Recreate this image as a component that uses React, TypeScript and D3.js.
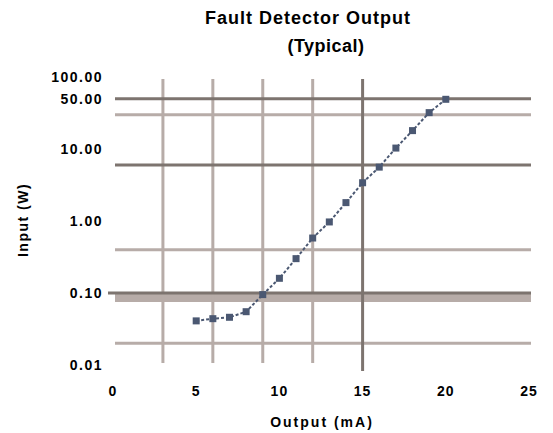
import React from 'react';
import * as d3 from 'd3';

// chart values
const outputMa = [5, 6, 7, 8, 9, 10, 11, 12, 13, 14, 15, 16, 17, 18, 19, 20];
const inputW = [0.041, 0.044, 0.046, 0.055, 0.095, 0.16, 0.3, 0.58, 0.97, 1.8, 3.4, 5.6, 10.3, 18, 32, 49];

const xTicks = [0, 5, 10, 15, 20, 25];
const yTicks = [0.01, 0.1, 1, 10, 50, 100];
const yTickLabels = ['0.01', '0.10', '1.00', '10.00', '50.00', '100.00'];

const vGridLight = [3, 6, 9, 12];
const vGridDark = [15];
const hGridDark = [50, 6, 0.1];
const hGridLight = [30, 0.4, 0.02];
const band = [0.075, 0.097];

const W = 553;
const H = 433;
const DARK = '#7d746f';
const LIGHT = '#b7aca8';
const MARK = '#4b5872';
const FONT = '"Liberation Sans", Arial, sans-serif';

export default function App() {
  const x = d3.scaleLinear().domain([0, 25]).range([113, 529]);
  const y = d3.scaleLog().domain([0.01, 100]).range([365, 77]);

  const line = d3.line<number>()
    .x((d, i) => x(outputMa[i]))
    .y((d) => y(d));

  const x0 = x(0) + 2;
  const x1 = x(25) + 2;

  return (
    <svg width={W} height={H} style={{ position: 'absolute', left: 0, top: 0, background: '#fff' }}>
      <rect x={0} y={0} width={W} height={H} fill="#fff" />

      {/* title */}
      <text x={308} y={24} textAnchor="middle" fontFamily={FONT} fontWeight="bold" fontSize={18} letterSpacing={1} fill="#000">
        Fault Detector Output
      </text>
      <text x={326} y={52} textAnchor="middle" fontFamily={FONT} fontWeight="bold" fontSize={18} letterSpacing={0.5} fill="#000">
        (Typical)
      </text>

      {/* light band below 0.10 */}
      <rect x={x0} y={y(band[1])} width={x1 - x0} height={y(band[0]) - y(band[1])} fill={LIGHT} />

      {/* horizontal grid */}
      {hGridLight.map((v) => (
        <line key={'hl' + v} x1={x0} x2={x1} y1={y(v)} y2={y(v)} stroke={LIGHT} strokeWidth={3} />
      ))}
      {/* vertical grid */}
      {vGridLight.map((v) => (
        <line key={'vl' + v} x1={x(v)} x2={x(v)} y1={79} y2={363} stroke={LIGHT} strokeWidth={3} />
      ))}
      {vGridDark.map((v) => (
        <line key={'vd' + v} x1={x(v)} x2={x(v)} y1={79} y2={371} stroke={DARK} strokeWidth={3} />
      ))}
      {hGridDark.map((v) => (
        <line key={'hd' + v} x1={v === 0.1 ? 108 : x0} x2={x1} y1={y(v)} y2={y(v)} stroke={DARK} strokeWidth={3} />
      ))}

      {/* series */}
      <path d={line(inputW) || ''} fill="none" stroke={MARK} strokeWidth={2} strokeDasharray="3,2" />
      {inputW.map((v, i) => (
        <rect key={'m' + i} x={x(outputMa[i]) - 3.5} y={y(v) - 3.5} width={7} height={7} fill={MARK} />
      ))}

      {/* y tick labels */}
      {yTicks.map((v, i) => (
        <text key={'yt' + v} x={103} y={y(v) + 5} textAnchor="end" fontFamily={FONT} fontWeight="bold" fontSize={14} letterSpacing={1.5} fill="#000">
          {yTickLabels[i]}
        </text>
      ))}

      {/* x tick labels */}
      {xTicks.map((v) => (
        <text key={'xt' + v} x={x(v)} y={396} textAnchor="middle" fontFamily={FONT} fontWeight="bold" fontSize={14} letterSpacing={1} fill="#000">
          {v}
        </text>
      ))}

      {/* axis titles */}
      <text x={322} y={427} textAnchor="middle" fontFamily={FONT} fontWeight="bold" fontSize={14} letterSpacing={2} fill="#000">
        Output (mA)
      </text>
      <text
        transform={`translate(28,220) rotate(-90)`}
        textAnchor="middle"
        fontFamily={FONT}
        fontWeight="bold"
        fontSize={14}
        letterSpacing={1.5}
        fill="#000"
      >
        Input (W)
      </text>
    </svg>
  );
}
